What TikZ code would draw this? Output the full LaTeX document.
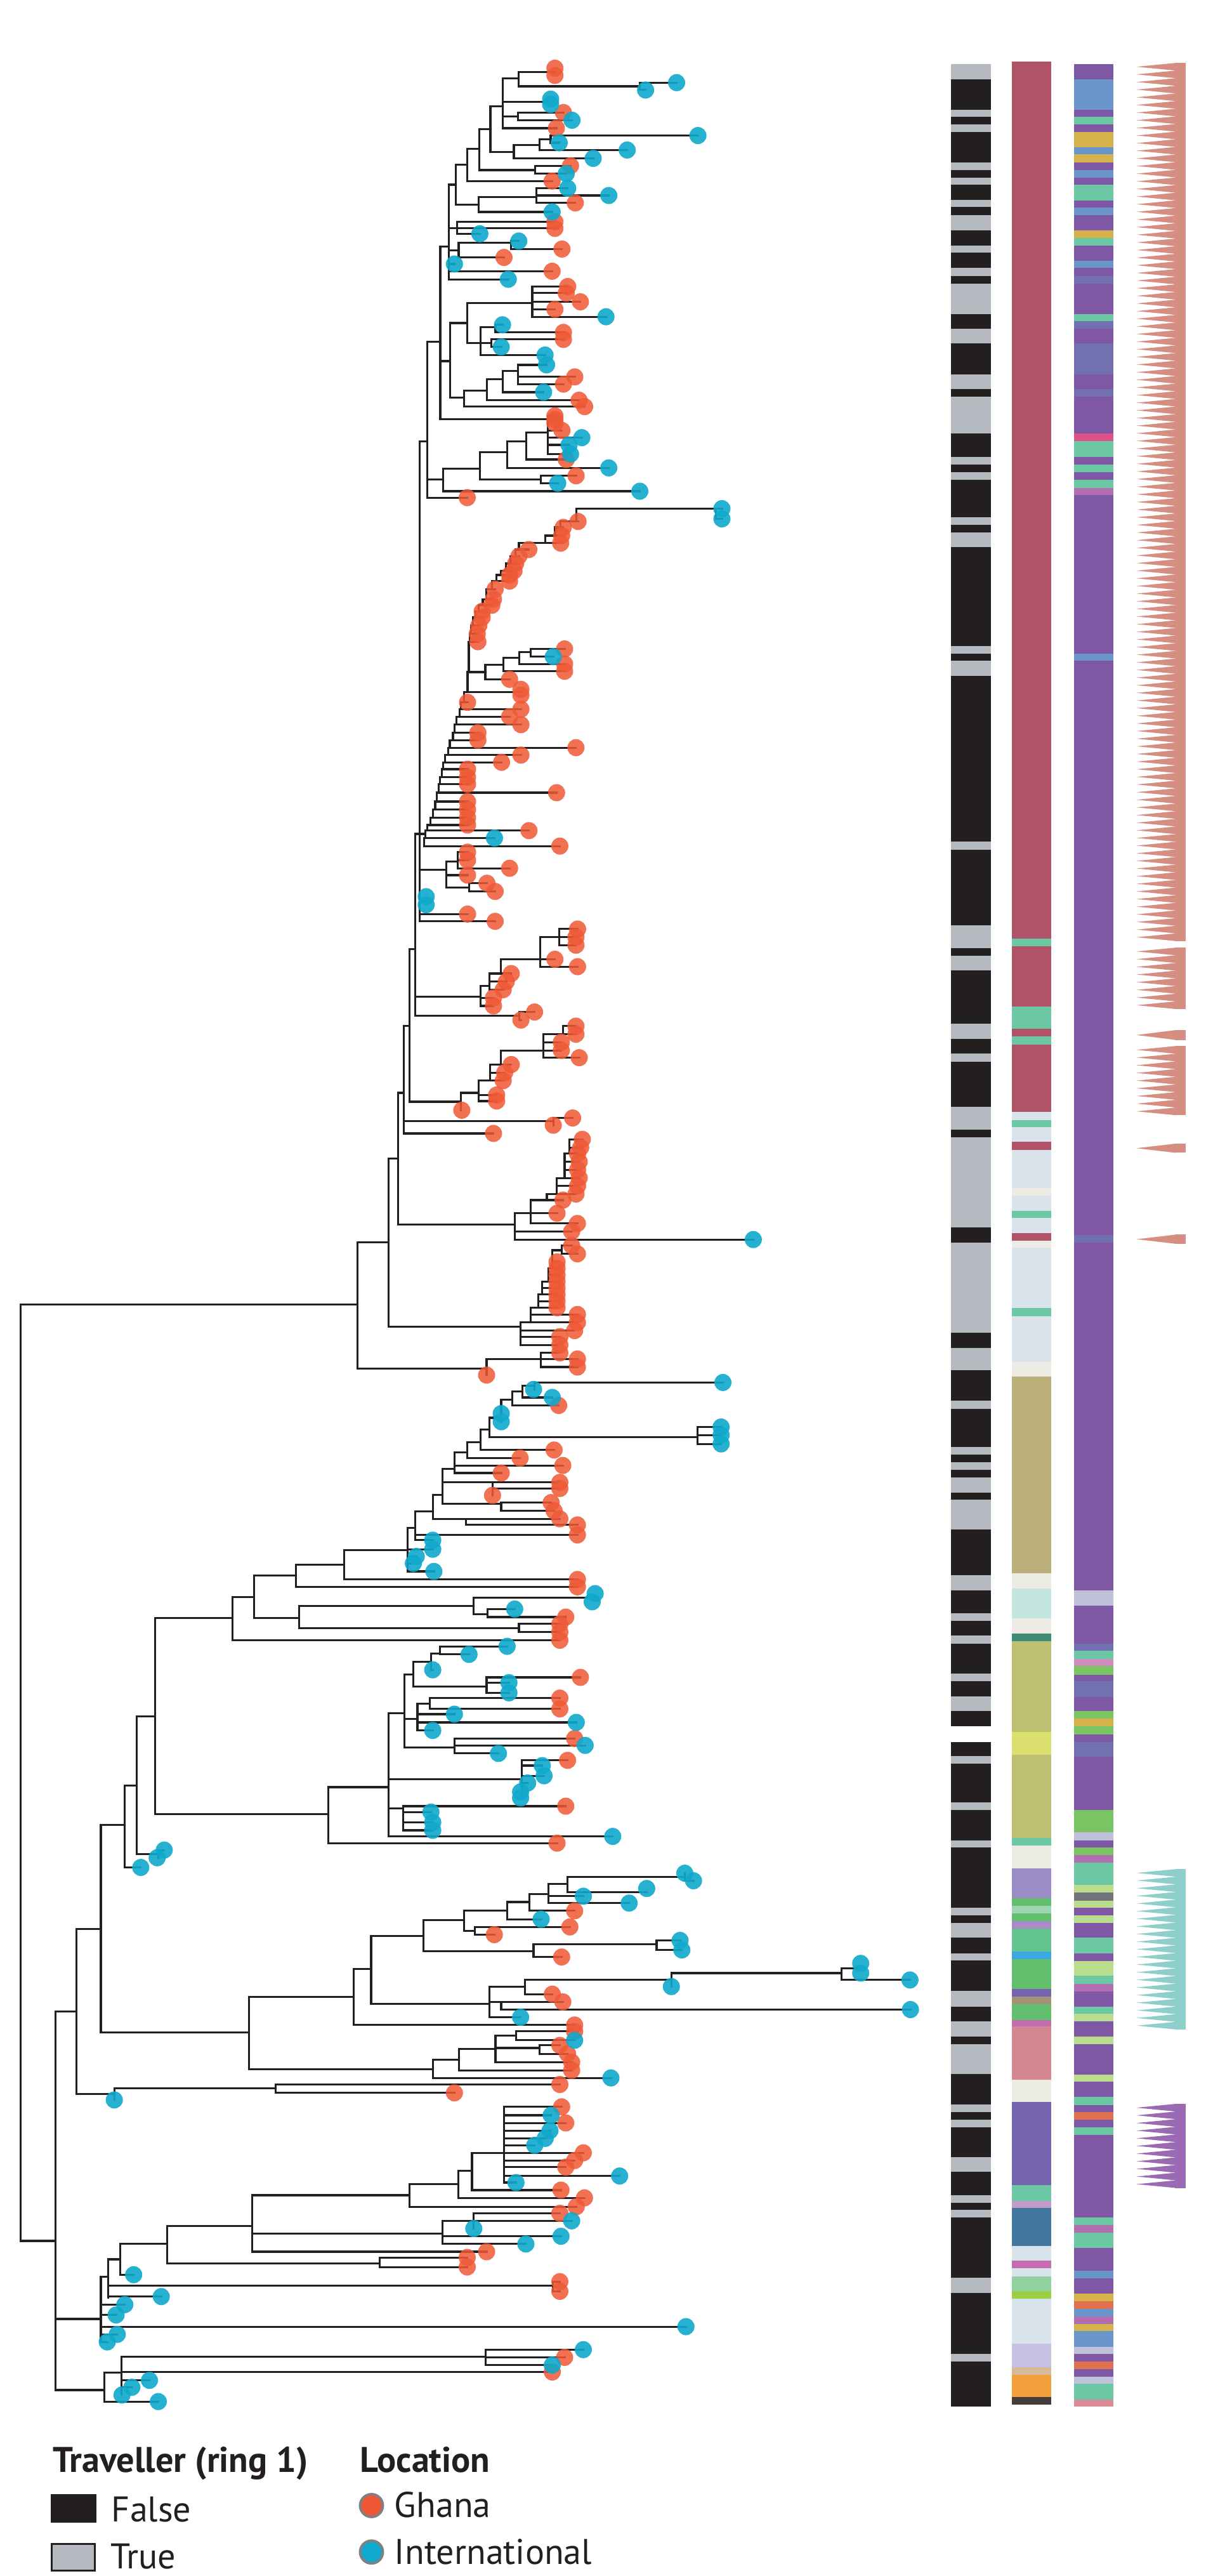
\documentclass[tikz,border=0pt]{standalone}
\usepackage{fontspec}
\setmainfont{PT Sans}
\usepackage{tikz}

\definecolor{treeline}{HTML}{231F20}
\definecolor{ghanaC}{HTML}{EE5834}
\definecolor{intlC}{HTML}{10A8CC}
\definecolor{legtext}{HTML}{231F20}
% traveller ring
\definecolor{trvF}{HTML}{231F20}
\definecolor{trvT}{HTML}{B3B9BE}
% clade ring
\definecolor{maroon}{HTML}{B05268}
\definecolor{tealc}{HTML}{6CC7A5}
\definecolor{lblue}{HTML}{D9E3EC}
\definecolor{cream}{HTML}{ECECE5}
\definecolor{khaki}{HTML}{BBAF79}
\definecolor{paleteal}{HTML}{C4E6E0}
\definecolor{dteal}{HTML}{3E8B78}
\definecolor{olive}{HTML}{BDC070}
\definecolor{yellowc}{HTML}{DADF6E}
\definecolor{lav}{HTML}{9B8CC7}
\definecolor{lavb}{HTML}{A88BC8}
\definecolor{greenc}{HTML}{62BF6D}
\definecolor{greenb}{HTML}{62C48C}
\definecolor{palegrn}{HTML}{9FD5B2}
\definecolor{bluec}{HTML}{3BA9E0}
\definecolor{purpb}{HTML}{7764B0}
\definecolor{brownc}{HTML}{A49379}
\definecolor{magentac}{HTML}{C46DB0}
\definecolor{pinkc}{HTML}{D4878F}
\definecolor{steel}{HTML}{41779E}
\definecolor{lilac}{HTML}{C19BCB}
\definecolor{lgreen}{HTML}{94D1A0}
\definecolor{limec}{HTML}{9BCF45}
\definecolor{lavlight}{HTML}{C7C0E2}
\definecolor{tanc}{HTML}{D7BA9C}
\definecolor{orangec}{HTML}{F09F3A}
\definecolor{darkc}{HTML}{453C3C}
% location ring
\definecolor{purp}{HTML}{7E57A5}
\definecolor{blu}{HTML}{6A95CB}
\definecolor{gold}{HTML}{D6B24D}
\definecolor{vblue}{HTML}{7370B1}
\definecolor{pinkred}{HTML}{E0508A}
\definecolor{mauve}{HTML}{B26FB0}
\definecolor{lgrey}{HTML}{BFC1D8}
\definecolor{grn}{HTML}{7BC463}
\definecolor{lgrn}{HTML}{B9DC8D}
\definecolor{greyc}{HTML}{717478}
\definecolor{orng}{HTML}{E07050}
\definecolor{pinkl}{HTML}{D28DC0}
\definecolor{pinkb}{HTML}{D98B96}
% combs
\definecolor{combpink}{HTML}{D68E83}
\definecolor{combteal}{HTML}{8ECFCB}
\definecolor{combpurple}{HTML}{9A6BB4}

\begin{document}
\begin{tikzpicture}[x=0.0259cm, y=-0.0259cm,
    branch/.style={line width=0.9pt, draw=treeline, line cap=rect},
    ghana/.style={fill=ghanaC, fill opacity=0.85},
    intl/.style={fill=intlC, fill opacity=0.9},
    every node/.style={font=\fontsize{16}{19}\selectfont, text=legtext, inner sep=0pt}]
    \useasboundingbox (0,0) rectangle (734,1568);

    % Traveller ring
    \fill[trvF] (579,38.9) rectangle (603.5,1464.7);
    \foreach \ya/\yb in {38.9/48.3, 66.7/71.0, 75.7/80.4, 98.8/103.6, 108.1/112.6, 121.6/126.1, 131.0/140.3, 149.3/153.8, 163.2/168.0, 172.5/191.1, 200.1/209.1, 227.8/236.8, 241.4/264.0, 278.3/282.8, 287.4/291.9, 315.0/319.5, 324.1/333.1, 393.2/397.7, 402.2/411.3, 512.1/517.1, 563.1/577.2, 581.7/590.8, 623.1/632.2, 641.4/646.3, 673.6/687.6, 692.4/747.2, 756.4/811.4, 820.5/834.2, 852.6/857.4, 880.8/885.5, 889.9/894.7, 899.2/908.5, 912.9/931.1, 958.8/967.9, 982.0/986.5, 995.6/1000.4, 1018.8/1023.4, 1032.5/1041.6, 1068.9/1073.6, 1097.0/1101.8, 1120.2/1124.6, 1161.1/1166.0, 1170.5/1179.5, 1188.9/1193.4, 1211.7/1221.4, 1230.4/1239.7, 1244.3/1262.6, 1280.8/1285.7, 1290.2/1294.7, 1313.0/1322.0, 1336.1/1340.8, 1345.2/1349.8, 1386.4/1395.8, 1432.7/1437.4}
        \fill[trvT] (579,\ya) rectangle (603.5,\yb);
    \fill[white] (578,1050.9) rectangle (604.5,1060.2);

    % Clade ring
    \foreach \ya/\yb/\col in {37.5/571.3/maroon, 571.3/575.8/tealc, 575.8/612.7/maroon, 612.7/626.3/tealc, 626.3/631.0/maroon, 631.0/635.9/tealc, 635.9/676.9/maroon, 676.9/681.7/lblue, 681.7/686.2/tealc, 686.2/695.0/lblue, 695.0/699.9/maroon, 699.9/723.1/lblue, 723.1/727.6/cream, 727.6/736.9/lblue, 736.9/741.3/tealc, 741.3/750.5/lblue, 750.5/755.2/maroon, 755.2/759.6/cream, 759.6/796.3/lblue, 796.3/801.0/tealc, 801.0/828.8/lblue, 828.8/837.9/cream, 837.9/957.7/khaki, 957.7/967.0/cream, 967.0/985.2/paleteal, 985.2/994.5/cream, 994.5/998.9/dteal, 998.9/1054.1/olive, 1054.1/1068.2/yellowc, 1068.2/1118.7/olive, 1118.7/1123.3/tealc, 1123.3/1137.1/cream, 1137.1/1155.5/lav, 1155.5/1160.2/greenc, 1160.2/1164.5/palegrn, 1164.5/1169.3/greenc, 1169.3/1173.8/lavb, 1173.8/1187.7/greenb, 1187.7/1192.4/bluec, 1192.4/1210.8/greenc, 1210.8/1215.2/purpb, 1215.2/1219.8/brownc, 1219.8/1229.4/greenc, 1229.4/1233.6/magentac, 1233.6/1265.8/pinkc, 1265.8/1279.5/cream, 1279.5/1330.1/purpb, 1330.1/1339.5/tealc, 1339.5/1343.9/lilac, 1343.9/1367.1/steel, 1367.1/1376.1/lblue, 1376.1/1380.7/magentac, 1380.7/1385.5/lblue, 1385.5/1394.5/lgreen, 1394.5/1399.3/limec, 1399.3/1426.7/lblue, 1426.7/1440.8/lavlight, 1440.8/1445.4/tanc, 1445.4/1459.2/orangec, 1459.2/1463.6/darkc}
        \fill[fill=\col] (616,\ya) rectangle (640,\yb);

    % Location ring
    \foreach \ya/\yb/\col in {38.9/48.3/purp, 48.3/66.7/blu, 66.7/71.0/purp, 71.0/75.7/tealc, 75.7/80.4/purp, 80.4/89.8/gold, 89.8/94.0/blu, 94.0/98.8/gold, 98.8/103.6/purp, 103.6/108.1/blu, 108.1/112.6/purp, 112.6/122.0/tealc, 122.0/126.4/purp, 126.4/131.0/blu, 131.0/140.3/purp, 140.3/144.8/gold, 144.8/149.6/tealc, 149.6/158.6/purp, 158.6/163.2/blu, 163.2/168.0/purp, 168.0/172.5/vblue, 172.5/191.1/purp, 191.1/195.6/tealc, 195.6/200.1/vblue, 200.1/209.1/purp, 209.1/227.8/vblue, 227.8/236.8/purp, 236.8/241.4/vblue, 241.4/264.0/purp, 264.0/268.5/pinkred, 268.5/278.3/tealc, 278.3/282.8/purp, 282.8/287.4/tealc, 287.4/291.9/purp, 291.9/296.9/tealc, 296.9/301.4/mauve, 301.4/397.7/purp, 397.7/402.2/blu, 402.2/751.9/purp, 751.9/756.4/vblue, 756.4/967.9/purp, 967.9/977.2/lgrey, 977.2/1000.4/purp, 1000.4/1004.7/vblue, 1004.7/1009.8/tealc, 1009.8/1014.2/pinkl, 1014.2/1019.3/grn, 1019.3/1023.4/purp, 1023.4/1032.9/vblue, 1032.9/1041.6/purp, 1041.6/1045.9/grn, 1045.9/1050.9/gold, 1050.9/1055.9/grn, 1055.9/1060.2/purp, 1060.2/1069.3/vblue, 1069.3/1101.8/purp, 1101.8/1115.2/grn, 1115.2/1120.2/lgrey, 1120.2/1124.6/purp, 1124.6/1129.0/grn, 1129.0/1133.6/mauve, 1133.6/1147.4/tealc, 1147.4/1151.9/lgrn, 1151.9/1156.8/greyc, 1156.8/1161.1/lgrn, 1161.1/1165.8/purp, 1165.8/1170.5/lgrn, 1170.5/1179.5/purp, 1179.5/1188.9/tealc, 1188.9/1193.7/purp, 1193.7/1202.7/lgrn, 1202.7/1207.5/tealc, 1207.5/1212.1/mauve, 1212.1/1221.4/purp, 1221.4/1225.9/tealc, 1225.9/1230.4/lgrn, 1230.4/1239.7/purp, 1239.7/1244.3/lgrn, 1244.3/1262.8/purp, 1262.8/1267.1/lgrn, 1267.1/1276.5/purp, 1276.5/1281.2/tealc, 1281.2/1285.5/purp, 1285.5/1290.2/orng, 1290.2/1294.7/purp, 1294.7/1299.6/tealc, 1299.6/1349.8/purp, 1349.8/1354.5/tealc, 1354.5/1359.1/mauve, 1359.1/1368.4/tealc, 1368.4/1382.3/purp, 1382.3/1386.8/blu, 1386.8/1396.2/purp, 1396.2/1400.6/gold, 1400.6/1405.2/orng, 1405.2/1410.0/blu, 1410.0/1414.5/mauve, 1414.5/1419.0/gold, 1419.0/1428.4/blu, 1428.4/1432.7/lgrey, 1432.7/1437.4/purp, 1437.4/1442.1/orng, 1442.1/1446.6/purp, 1446.6/1451.1/lgrey, 1451.1/1460.5/tealc, 1460.5/1464.7/pinkb}
        \fill[fill=\col] (654,\ya) rectangle (678,\yb);

    % Cluster combs
    \foreach \ya/\yb/\n/\col in {38.3/572.8/115/combpink, 576.8/614.2/8/combpink, 627.0/633.0/1/combpink, 636.7/678.8/9/combpink, 696.1/701.7/1/combpink, 751.5/757.1/1/combpink, 1137.7/1235.3/21/combteal, 1280.6/1331.8/11/combpurple} {
        \pgfmathsetmacro{\h}{(\yb-\ya)/\n}
        \fill[fill=\col] (715.5,\ya) rectangle (722,\yb);
        \foreach \k in {1,...,\n}
            \fill[fill=\col] (716,{\ya+(\k-1)*\h}) -- (692,{\ya+(\k-0.5)*\h}) -- (716,{\ya+\k*\h}) -- cycle;
    }

    % Backbone
    \foreach \x/\ya/\yb in {12.5/794/1364, 217.8/756.3/832.9, 236.7/705.1/807.5, 242.3/665.2/745.4, 245.9/624.6/689.9, 249.2/577.8/670.6, 252.8/507.6/618.4, 255.5/268.6/560.8}
        \draw[branch] (\x,\ya) -- (\x,\yb);
    \foreach \xa/\xb/\y in {12.5/217.8/794, 12.5/33.9/1364, 217.8/236.7/756.3, 217.8/296.3/832.9, 236.7/242.3/705.1, 236.7/317.0/807.5, 242.3/245.9/665.2, 242.3/313.4/745.4, 245.9/249.2/624.6, 245.9/336.9/682.5, 245.9/300.5/689.9, 249.2/252.8/577.8, 249.2/280.8/670.6, 252.8/255.5/507.6, 252.8/292.6/606.6, 252.8/316.2/618.4, 255.5/260.3/268.6, 255.5/259.0/507.6, 255.5/271.9/529.3, 255.5/259.5/548.2, 255.5/284.7/556.4, 255.5/301.5/560.8}
        \draw[branch] (\xa,\y) -- (\xb,\y);

    % Top clade
    \foreach \x/\ya/\yb in {260.3/208.1/302.9, 269.8/285.2/299.0, 292.2/275.3/291.9, 329.3/289.6/294.1, 308.9/268.6/284.8, 320.3/263.1/279.7, 333.6/253.1/276.4, 268.1/150.0/255.3, 274.1/196.6/242.0, 282.7/237.6/247.5, 296.5/230.9/243.6, 306.0/225.8/238.7, 315.5/222.1/233.8, 284.5/184.4/208.8, 324.1/174.4/192.8, 292.7/199.2/216.1, 301.7/197.7/202.3, 299.1/206.6/211.2, 273.3/112.4/170.0, 279.3/147.8/156.7, 311.2/146.7/151.6, 278.4/135.0/142.3, 277.6/100.2/124.6, 291.4/120.1/129.0, 326.7/114.6/123.5, 284.5/90.7/110.2, 291.7/78.5/103.5, 325.9/100.9/105.7, 298.6/64.7/92.4, 312.9/88.4/96.4, 328.4/84.9/91.3, 335.3/82.5/86.9, 306.0/47.7/78.0, 315.9/43.7/52.5, 389.6/50.3/54.8, 315.5/68.5/73.2}
        \draw[branch] (\x,\ya) -- (\x,\yb);
    \foreach \xa/\xb/\y in {260.3/284.5/302.9, 260.3/269.8/291.9, 269.8/389.6/299.0, 269.8/292.2/285.2, 292.2/329.3/291.9, 329.3/350.8/289.6, 329.3/339.6/294.1, 292.2/308.9/275.3, 308.9/370.7/284.8, 308.9/320.3/268.6, 320.3/344.8/279.7, 320.3/333.6/263.1, 333.6/337.9/253.1, 333.6/337.9/257.5, 333.6/342.2/262.0, 333.6/354.3/266.4, 333.6/346.5/270.8, 333.6/347.4/276.4, 260.3/268.1/208.1, 268.1/337.9/255.3, 268.1/274.1/219.8, 274.1/282.7/242.0, 282.7/356.0/247.5, 282.7/296.5/237.6, 296.5/352.6/243.6, 296.5/306.0/230.9, 306.0/331.0/238.7, 306.0/315.5/225.8, 315.5/332.8/222.1, 315.5/350.0/229.4, 315.5/343.1/233.8, 274.1/284.5/196.6, 284.5/324.1/184.4, 324.1/345.7/174.4, 324.1/344.8/178.4, 324.1/353.4/183.7, 324.1/337.9/188.2, 324.1/369.0/192.8, 284.5/299.1/208.8, 292.7/301.7/199.2, 301.7/306.0/197.7, 301.7/343.1/202.3, 299.1/343.1/206.6, 299.1/305.2/211.2, 292.7/331.9/216.1, 268.1/273.3/150.0, 273.3/309.5/170.0, 273.3/336.2/165.1, 273.3/276.7/160.7, 273.3/279.3/152.3, 279.3/311.2/147.8, 311.2/315.9/146.7, 311.2/342.2/151.6, 279.3/306.9/156.7, 273.3/278.4/139.0, 278.4/337.9/135.0, 278.4/337.9/139.0, 278.4/292.2/142.3, 273.3/277.6/112.4, 277.6/291.4/124.6, 291.4/326.7/120.1, 326.7/345.7/114.6, 326.7/370.7/119.0, 326.7/350.3/123.5, 291.4/336.2/129.0, 277.6/284.5/100.2, 284.5/336.2/110.2, 284.5/291.7/90.7, 291.7/325.9/103.5, 325.9/347.4/100.9, 325.9/344.8/105.7, 291.7/298.6/78.5, 298.6/312.9/92.4, 312.9/328.4/88.4, 328.4/335.3/84.9, 335.3/425.0/82.5, 335.3/340.5/86.9, 328.4/381.9/91.3, 312.9/361.2/96.4, 298.6/306.0/64.7, 306.0/315.9/47.7, 315.9/337.9/43.7, 315.9/389.6/52.5, 389.6/412.0/50.3, 389.6/393.1/54.8, 306.0/335.3/61.9, 306.0/315.5/71.0, 315.5/343.1/68.5, 315.5/348.3/73.2, 306.0/338.8/78.0}
        \draw[branch] (\xa,\y) -- (\xb,\y);

    % Ghana caterpillars
    \foreach \x/\ya/\yb in {350.8/309.6/317.4, 436/309.6/315.8, 295.5/404.6/413.5, 306.4/400.5/408.6, 316.2/396.8/404.1, 323.1/395.0/399.7, 271.9/524.3/540.1, 278.8/518.7/528.5, 285.7/537.6/542.6, 292.6/600.0/612.3, 298/592.6/602.4, 305/583.9/592.6, 329/570.4/588.4, 340.5/565.5/575.3, 316.2/616.0/620.9, 280.8/665.2/675.8, 291.6/657.8/670.2, 298.5/648.0/657.8, 305/639.4/648.0, 331/629.5/643.8, 343/624.6/629.5, 336.9/680.5/684.9, 313.4/738.5/754.5, 346.7/693.5/702.2, 342/758.2/763.2, 296.3/827.2/837, 329.2/823.5/832.1}
        \draw[branch] (\x,\ya) -- (\x,\yb);
    \foreach \xa/\xb/\y in {350.8/439.6/309.6, 436/439.6/315.8, 350.8/352/317.4, 295.5/306.4/404.6, 306.4/316.2/400.5, 316.2/323.1/396.8, 323.1/343.8/395.0, 323.1/336.9/399.7, 316.2/343.8/404.1, 306.4/343.8/408.6, 295.5/310.3/413.5, 271.9/278.8/524.3, 278.8/284.7/518.7, 278.8/284.7/523.6, 278.8/310.3/528.5, 271.9/284.7/532.7, 271.9/285.7/540.1, 285.7/296.5/537.6, 285.7/301.5/542.6, 292.6/300.5/607.3, 292.6/300.5/612.3, 292.6/298/600.0, 298/306.4/602.4, 298/308.3/597.5, 298/305/592.6, 305/311.3/592.6, 305/329/583.9, 329/337.9/583.9, 329/351.7/588.4, 329/340.5/570.4, 340.5/351.7/565.5, 340.5/350.7/570.4, 340.5/350.7/575.3, 316.2/325.5/616.0, 316.2/317.2/620.9, 280.8/291.6/665.2, 291.6/302.4/666.5, 291.6/302.4/670.2, 291.6/298.5/657.8, 298.5/306.4/657.8, 298.5/307.3/652.9, 298.5/305/648.0, 305/311.3/648.0, 305/331/639.4, 331/341.8/639.4, 331/352.7/643.8, 331/341.8/634.4, 331/343/629.5, 343/350.7/624.6, 343/350.7/629.5, 336.9/348.7/680.5, 313.4/458.7/754.5, 313.4/348.1/749.6, 313.4/323.1/738.5, 346.7/354.6/693.5, 346.7/353.6/698.5, 346.7/351.7/702.2, 342/348.1/758.2, 342/351.6/763.2, 296.3/329.2/827.2, 329.2/340.9/823.5, 329.2/351.6/827.2, 329.2/351.6/832.1}
        \draw[branch] (\xa,\y) -- (\xb,\y);
    % stairs: from parent, down the node, out to the tip
    \foreach \xp/\xn/\yt/\yb/\xl in {350.8/341.4/317.4/321/343, 341.4/338/321/326/342, 338/331.9/326/330.6/341.4, 331.9/316/330.6/334.5/322, 316/313.8/334.5/338.5/316, 313.8/311/338.5/343/314, 311/308/343/347.5/313, 308/305/347.5/350/310.3, 305/302.4/350/353.7/310.3, 302.4/299.5/353.7/358.6/301.5, 299.5/296/358.6/364.7/300.5, 296/294/364.7/368.4/299.5, 294/291.5/368.4/372.1/293.6, 291.5/289.6/372.1/375.8/293.6, 289.6/288/375.8/380.7/291.6, 288/286.7/380.7/385.7/290.6, 286.7/285.9/385.7/390.6/291, 285.9/285.5/390.6/409.1/295.5, 285.5/284.7/409.1/421.4/317.2, 284.7/282.7/421.4/427.5/284.7, 282.7/280.8/427.5/431.7/317.2, 280.8/279.8/431.7/436.2/310.3, 279.8/277.8/436.2/441.1/317.2, 277.8/276.8/441.1/446.0/291.0, 276.8/275.8/446.0/450.5/291.0, 275.8/273.9/450.5/455.1/350.7, 273.9/272.9/455.1/459.6/317.2, 272.9/270.9/459.6/464.0/305.4, 270.9/269.9/464.0/468.2/284.7, 269.9/268.9/468.2/473.1/284.7, 268.9/268.0/473.1/477.3/284.7, 268.0/267.0/477.3/482.5/338.9, 267.0/266.0/482.5/487.9/284.7, 266.0/265.0/487.9/492.8/284.7, 265.0/263.5/492.8/497.7/284.7, 263.5/262.1/497.7/502.2/284.7, 262.1/260.1/502.2/505.6/322.1, 260.1/259.0/505.6/510.1/301.1, 259.0/258.1/510.1/515.0/340.9,
        346.7/343.8/702.2/707.1/352.7, 343.8/343.8/707.1/712/351.7, 343.8/343.8/712/717/352.7, 343.8/338.9/717/721.9/351.7, 338.9/338.9/721.9/726.8/350.7, 338.9/333.0/726.8/730.5/342.8, 333.0/323.1/730.5/738.5/339.2, 323.1/323.1/738.5/744.7/351.6,
        342/336.3/761/768.1/339.2, 336.3/336.3/768.1/772/339.2, 336.3/333.8/772/776/339.2, 333.8/333.8/776/780/339.2, 333.8/330.2/780/784/339.2, 330.2/330.2/784/788/339.2, 330.2/327.7/788/792/339.2, 327.7/327.7/792/796/339.2, 327.7/323.1/796/800.1/351.6, 323.1/323.1/800.1/805/351.6, 323.1/317.0/805/809.9/349.9, 317.0/317.0/809.9/813.6/340.9, 317.0/317.0/813.6/818.6/340.9,
        325.6/318/843.6/850.6/336.3, 318/312/847/855.5/340.2, 312/305.2/852/860.4/305.2, 305.2/305.2/860.4/865.4/305.2, 305.2/298.1/863/874.7/424.8, 298.1/292.7/870/882.6/337.4, 292.7/284.5/878/887.5/316.7, 284.5/276.7/884/892/342.7, 276.7/276.7/892/896.6/305.2, 276.7/269.5/894/902.3/299.9, 269.5/269.5/902.3/915.4/305.2, 269.5/263.5/910/924.5/283.8, 263.5/252.8/920/934.3/351.6, 252.8/252.8/934.3/937.5/263.5, 252.8/248.1/930/943/263.5, 248.1/248.1/943/947.4/253.5, 248.1/248.1/947.4/951.6/251.7, 248.1/248.1/951.6/956.5/264.2}
        \draw[branch] (\xp,\yt) -- (\xn,\yt) -- (\xn,\yb) -- (\xl,\yb);

    % Lower tree
    \foreach \x/\ya/\yb in {33.9/1224.4/1454.8, 46.4/1174.1/1274.7, 61.4/1110.9/1237.2, 76.0/1087.0/1136.7, 83.2/1044.7/1128.5, 94.6/984.8/1104.3, 141.7/972.0/998.4, 154.6/959.0/984.8, 180.3/952.3/965.9, 209.6/943.4/961.4, 182.1/977.4/991.0, 288.5/972.5/982.4, 297/979.4/984.3, 316/988.5/993.4, 325.6/841.5/845.7, 424.8/868.6/878.9, 299.9/902.3/910.2, 305.2/914.6/919.6, 283.8/924.5/928.2, 200/1087.8/1121.9, 236.7/1042.7/1117.8, 246.3/1019.3/1063.6, 251.7/1011.4/1026.7, 262.4/1006.5/1016.4, 267.8/1002.1/1007, 296.3/1021/1030.4, 254.2/1037/1053.3, 261.7/1033.6/1040.2, 276.7/1058.2/1067.3, 317.7/1071.5/1094.4, 245.6/1099.4/1114.1, 96.4/1126.1/1130.8, 151.7/1215.5/1259.5, 215.3/1198.6/1232.6, 226/1178.3/1219.7, 257.8/1168.7/1187.6, 282.7/1162.9/1175.2, 308.8/1157.7/1168.2, 322.4/1153/1163.1, 333.8/1146.7/1158.4, 345.6/1142.5/1151.9, 417/1140.2/1144.8, 289.2/1172.9/1177.6, 324.9/1183.4/1191.2, 399.8/1181.1/1186.9, 298.1/1209.2/1227.9, 319.5/1205.2/1213.8, 408.8/1201/1209.2, 512.3/1198.2/1205.2, 305.2/1218.5/1223.2, 263.5/1253.6/1264.8, 279.5/1247.3/1260.2, 301.7/1238.9/1255.2, 314.2/1236.5/1241.9, 328.4/1245/1250.1, 69.6/1271.1/1278.2, 167.8/1268.8/1273.9, 61.4/1385.8/1425.5, 66/1375.2/1398.6, 73.2/1365.9/1384.6, 101.7/1354.9/1377.6, 153.5/1336.2/1370.6, 249.2/1329.6/1343.2, 279.2/1321.4/1337.8, 287.4/1310.4/1333.1, 307/1282.4/1328.5, 269.5/1351.8/1365.9, 288.5/1347.2/1356.5, 231.3/1374.1/1379.9, 336.7/1388.8/1394.7, 63.5/1444.2/1461.8, 73.9/1434.4/1457.8, 295.6/1430.2/1439.6}
        \draw[branch] (\x,\ya) -- (\x,\yb);
    \foreach \xa/\xb/\y in {325.6/440.2/841.5, 424.8/439.1/868.6, 424.8/439.1/873.5, 424.8/439.1/878.9, 299.9/340.9/902.3, 299.9/340.9/906, 305.2/335.6/914.6, 305.2/337.4/919.6, 283.8/340.9/924.5, 283.8/351.6/928.2, 33.9/46.4/1224.4, 46.4/61.4/1174.1, 61.4/76.0/1110.9, 76.0/83.2/1087.0, 83.2/94.6/1044.7, 94.6/141.7/984.8, 141.7/154.6/972.0, 154.6/180.3/959.0, 180.3/209.6/952.3, 209.6/248.1/943.4, 209.6/351.6/961.4, 180.3/351.6/965.9, 154.6/182.1/984.8, 182.1/288.5/977.4, 288.5/362.4/972.5, 288.5/297/982.4, 297/313.4/979.4, 297/344.5/984.3, 182.1/316/991.0, 316/340.9/988.5, 316/340.9/993.4, 141.7/340.9/998.4, 94.6/200/1104.3, 200/236.7/1087.8, 236.7/246.3/1042.7, 246.3/251.7/1019.3, 251.7/262.4/1011.4, 262.4/267.8/1006.5, 267.8/308.8/1002.1, 267.8/285.6/1007, 262.4/263.5/1016.4, 251.7/296.3/1026.7, 296.3/353.4/1021, 296.3/309.9/1024.2, 296.3/309.9/1030.4, 246.3/254.2/1046.4, 254.2/261.7/1037, 261.7/340.9/1033.6, 261.7/340.9/1040.2, 254.2/276.7/1043.4, 254.2/350.9/1048.4, 254.2/263.5/1053.3, 246.3/276.7/1063.6, 276.7/349.9/1058.2, 276.7/356.3/1062.4, 276.7/303.5/1067.3, 236.7/317.7/1082.9, 317.7/345.6/1071.5, 317.7/330.2/1074.7, 317.7/331.3/1080.9, 317.7/321.3/1085.3, 236.7/245.6/1100.6, 245.6/344.5/1099.4, 245.6/262.4/1103, 245.6/263.5/1109.2, 245.6/263.5/1114.1, 236.7/373.1/1117.8, 200/339.2/1121.9, 83.2/96.4/1128.5, 96.4/100/1126.1, 76.0/85.7/1136.7, 61.4/151.7/1237.2, 151.7/215.3/1215.5, 215.3/226/1198.6, 226/257.8/1178.3, 257.8/282.7/1168.7, 282.7/308.8/1162.9, 308.8/322.4/1157.7, 322.4/333.8/1153, 333.8/345.6/1146.7, 345.6/417/1142.5, 417/422.3/1144.8, 345.6/393.8/1151.9, 333.8/355.2/1154.2, 333.8/383.1/1158.4, 322.4/349.9/1163.1, 308.8/329.5/1168.2, 282.7/289.2/1175.2, 289.2/347/1172.9, 289.2/301/1177.6, 257.8/324.9/1187.6, 324.9/399.8/1183.4, 399.8/414.1/1181.1, 399.8/415.2/1186.9, 324.9/342/1191.2, 226/298.1/1219.7, 298.1/319.5/1209.2, 319.5/408.8/1205.2, 408.8/512.3/1201, 512.3/524.1/1198.2, 512.3/554.1/1205.2, 319.5/336.3/1213.8, 298.1/305.2/1218.5, 305.2/342.7/1218.5, 305.2/554.4/1223.2, 298.1/317/1227.9, 215.3/349.9/1232.6, 151.7/263.5/1259.5, 263.5/279.5/1253.6, 279.5/301.7/1247.3, 301.7/314.2/1238.9, 314.2/349.9/1236.5, 314.2/349.9/1241.9, 301.7/328.4/1246.6, 328.4/340.9/1245, 328.4/345.6/1250.1, 301.7/348.1/1255.2, 279.5/348.1/1260.2, 263.5/372/1264.8, 46.4/69.6/1274.7, 69.6/167.8/1271.1, 167.8/340.9/1268.8, 167.8/276.7/1273.9, 33.9/61.4/1411.5, 61.4/66/1385.8, 66/73.2/1375.2, 73.2/101.7/1365.9, 101.7/153.5/1354.9, 153.5/249.2/1336.2, 249.2/279.2/1329.6, 279.2/287.4/1321.4, 287.4/307/1310.4, 307/342/1282.4, 307/344.5/1292.2, 307/335.6/1287.5, 307/334.9/1296.9, 307/332/1301.6, 307/325.6/1305.8, 307/355.2/1310.4, 307/349.9/1315.1, 307/344.5/1319.1, 307/377.3/1324.5, 307/314.2/1328.5, 287.4/341.6/1333.1, 279.2/355.9/1337.8, 249.2/350.9/1343.2, 153.5/269.5/1359.6, 269.5/288.5/1351.8, 288.5/340.9/1347.2, 288.5/348.1/1351.8, 269.5/341.6/1361.2, 269.5/320.2/1365.9, 153.5/296.3/1370.6, 101.7/231.3/1377.6, 231.3/284.5/1374.1, 231.3/284.5/1379.9, 73.2/81.4/1384.6, 66/336.7/1391.1, 336.7/340.9/1388.8, 336.7/340.9/1394.7, 66/98.2/1397.9, 61.4/76/1402.8, 61.4/70.7/1409.1, 61.4/417.7/1416.2, 61.4/71.4/1420.9, 61.4/65.3/1425.5, 33.9/63.5/1454.8, 63.5/73.9/1444.2, 73.9/295.6/1434.4, 295.6/355.2/1430.2, 295.6/343.8/1434.9, 295.6/336.3/1439.6, 73.9/336.3/1443.8, 73.9/91/1448.9, 73.9/80.3/1453.1, 63.5/96.4/1461.8}
        \draw[branch] (\xa,\y) -- (\xb,\y);

    % Ghana tips
    \foreach \x/\y in {284.5/302.9, 350.8/289.6, 344.8/279.7, 337.9/253.1, 337.9/257.5, 342.2/262.0, 337.9/255.3, 356.0/247.5, 352.6/243.6, 350.0/229.4, 343.1/233.8, 345.7/174.4, 344.8/178.4, 353.4/183.7, 337.9/188.2, 343.1/202.3, 343.1/206.6, 336.2/165.1, 342.2/151.6, 306.9/156.7, 337.9/135.0, 337.9/139.0, 350.3/123.5, 336.2/110.2, 347.4/100.9, 337.9/41.5, 337.9/45.9, 343.1/68.5, 338.8/78.0,
        352/317.4, 343/321, 342/326, 341.4/330.6, 322/334.5, 316/338.5, 314/343, 313/347.5, 310.3/350, 310.3/353.7, 301.5/358.6, 300.5/364.7, 299.5/368.4, 293.6/372.1, 293.6/375.8, 291.6/380.7, 290.6/385.7, 291/390.6, 343.8/395.0, 343.8/404.1, 343.8/408.6, 310.3/413.5, 317.2/419.6, 317.2/423.2, 284.7/427.5, 317.2/431.7, 310.3/436.2, 317.2/441.1, 291.0/446.0, 291.0/450.5, 350.7/455.1, 317.2/459.6, 305.4/464.0, 284.7/468.2, 284.7/473.1, 284.7/477.3, 338.9/482.5, 284.7/487.9, 284.7/492.8, 284.7/497.7, 284.7/502.2, 322.1/505.6, 340.9/515.0,
        284.7/518.7, 284.7/523.6, 310.3/528.5, 284.7/532.7, 296.5/537.6, 301.5/542.6, 284.7/556.4, 301.5/560.8, 300.5/607.3, 300.5/612.3, 306.4/602.4, 308.3/597.5, 311.3/592.6, 337.9/583.9, 351.7/588.4, 351.7/565.5, 350.7/570.4, 350.7/575.3, 325.5/616.0, 317.2/620.9,
        281.2/675.8, 302.4/666.5, 302.4/670.2, 306.4/657.8, 307.3/652.9, 311.3/648.0, 341.8/639.4, 352.7/643.8, 341.8/634.4, 350.7/624.6, 350.7/629.5, 348.7/680.5, 336.9/684.9, 300.5/689.9,
        348.1/749.6, 354.6/693.5, 353.6/698.5, 351.7/702.2, 352.7/707.1, 351.7/712, 352.7/717, 351.7/721.9, 350.7/726.8, 342.8/730.5, 339.2/738.5, 351.6/744.7, 348.1/758.2, 351.6/763.2, 339.2/768.1, 339.2/772, 339.2/776, 339.2/780, 339.2/784, 339.2/788, 339.2/792, 339.2/796, 351.6/800.1, 351.6/805, 349.9/809.9, 340.9/813.6, 340.9/818.6, 340.9/823.5, 351.6/827.2, 351.6/832.1, 296.3/837,
        340.2/855.5, 337.4/882.6, 316.7/887.5, 342.7/892, 305.2/896.6, 340.9/902.3, 340.9/906, 299.9/910.2, 335.6/914.6, 337.4/919.6, 340.9/924.5, 351.6/928.2, 351.6/934.3,
        351.6/961.4, 351.6/965.9, 344.5/984.3, 340.9/988.5, 340.9/993.4, 340.9/998.4, 353.4/1021, 340.9/1033.6, 340.9/1040.2, 349.9/1058.2, 345.6/1071.5, 344.5/1099.4, 339.2/1121.9, 349.9/1163.1, 347/1172.9, 301/1177.6, 342/1191.2, 336.3/1213.8, 342.7/1218.5, 349.9/1232.6, 349.9/1236.5, 340.9/1245, 345.6/1250.1, 348.1/1255.2, 348.1/1260.2, 340.9/1268.8, 276.7/1273.9, 342/1282.4, 344.5/1292.2, 355.2/1310.4, 349.9/1315.1, 344.5/1319.1, 341.6/1333.1, 355.9/1337.8, 350.9/1343.2, 340.9/1347.2, 296.3/1370.6, 284.5/1374.1, 284.5/1379.9, 340.9/1388.8, 340.9/1394.7, 343.8/1434.9, 336.3/1443.8}
        \fill[ghana] (\x,\y) circle (0.135cm);

    % International tips
    \foreach \x/\y in {389.6/299.0, 339.6/294.1, 370.7/284.8, 354.3/266.4, 346.5/270.8, 347.4/276.4, 331.0/238.7, 332.8/222.1, 369.0/192.8, 306.0/197.7, 305.2/211.2, 331.9/216.1, 309.5/170.0, 276.7/160.7, 315.9/146.7, 292.2/142.3, 345.7/114.6, 370.7/119.0, 336.2/129.0, 344.8/105.7, 425.0/82.5, 340.5/86.9, 381.9/91.3, 361.2/96.4, 412.0/50.3, 393.1/54.8, 335.3/60.3, 335.3/63.6, 348.3/73.2,
        439.6/309.6, 439.6/315.8, 336.9/399.7, 301.1/510.1, 259.5/545.8, 259.5/550.7, 458.7/754.5,
        440.2/841.5, 324.9/845.7, 336.3/850.6, 305.2/860.4, 305.2/865.4, 439.1/868.6, 439.1/873.5, 439.1/878.9, 263.5/937.5, 263.5/943, 253.5/947.4, 251.7/951.6, 264.2/956.5,
        362.4/970, 360.6/975, 313.4/979.4, 308.8/1002.1, 285.6/1007, 263.5/1016.4, 309.9/1024.2, 309.9/1030.4, 276.7/1043.4, 350.9/1048.4, 263.5/1053.3, 356.3/1062.4, 303.5/1067.3, 330.2/1074.7, 331.3/1080.9, 321.3/1085.3, 317/1090.7, 317/1094.4, 262.4/1103, 263.5/1109.2, 263.5/1114.1, 373.1/1117.8, 100/1126.1, 95.7/1130.8, 85.7/1136.7, 417/1140.2, 422.3/1144.8, 393.8/1149.5, 355.2/1154.2, 383.1/1158.4, 329.5/1168.2, 414.1/1181.1, 415.2/1186.9, 524.1/1195.1, 524.1/1201, 554.1/1205.2, 408.8/1209.2, 554.4/1223.2, 317/1227.9, 349.9/1241.9, 372/1264.8, 69.6/1278.2, 335.6/1287.5, 334.9/1296.9, 332/1301.6, 325.6/1305.8, 377.3/1324.5, 314.2/1328.5, 348.1/1351.8, 288.5/1356.5, 341.6/1361.2, 320.2/1365.9, 81.4/1384.6, 98.2/1397.9, 76/1402.8, 70.7/1409.1, 417.7/1416.2, 71.4/1420.9, 65.3/1425.5, 355.2/1430.2, 336.3/1439.6, 91/1448.9, 80.3/1453.1, 74.3/1457.8, 96.4/1461.8}
        \fill[intl] (\x,\y) circle (0.135cm);

    % Legend
    \node[anchor=base west, font=\fontsize{16}{19}\selectfont\bfseries] (travtitle) at (32,1505) {Traveller (ring 1)};
    \fill[trvF] (30.8,1518) rectangle (58.6,1535.5);
    \node[anchor=base west] (falselab) at (67.7,1534.8) {False};
    \draw[fill=trvT, draw=trvF, line width=0.9pt] (31.5,1548.6) rectangle (57.9,1564.6);
    \node[anchor=base west] (truelab) at (67,1563.6) {True};
    \node[anchor=base west, font=\fontsize{16}{19}\selectfont\bfseries] (loctitle) at (219,1505) {Location};
    \draw[fill=ghanaC, draw=gray, line width=1.1pt] (226.2,1525.1) circle (0.18cm);
    \node[anchor=base west] (ghanalab) at (240,1532.2) {Ghana};
    \draw[fill=intlC, draw=gray, line width=1.1pt] (226.2,1553.4) circle (0.18cm);
    \node[anchor=base west] (intllab) at (240,1561) {International};
\end{tikzpicture}
\end{document}
